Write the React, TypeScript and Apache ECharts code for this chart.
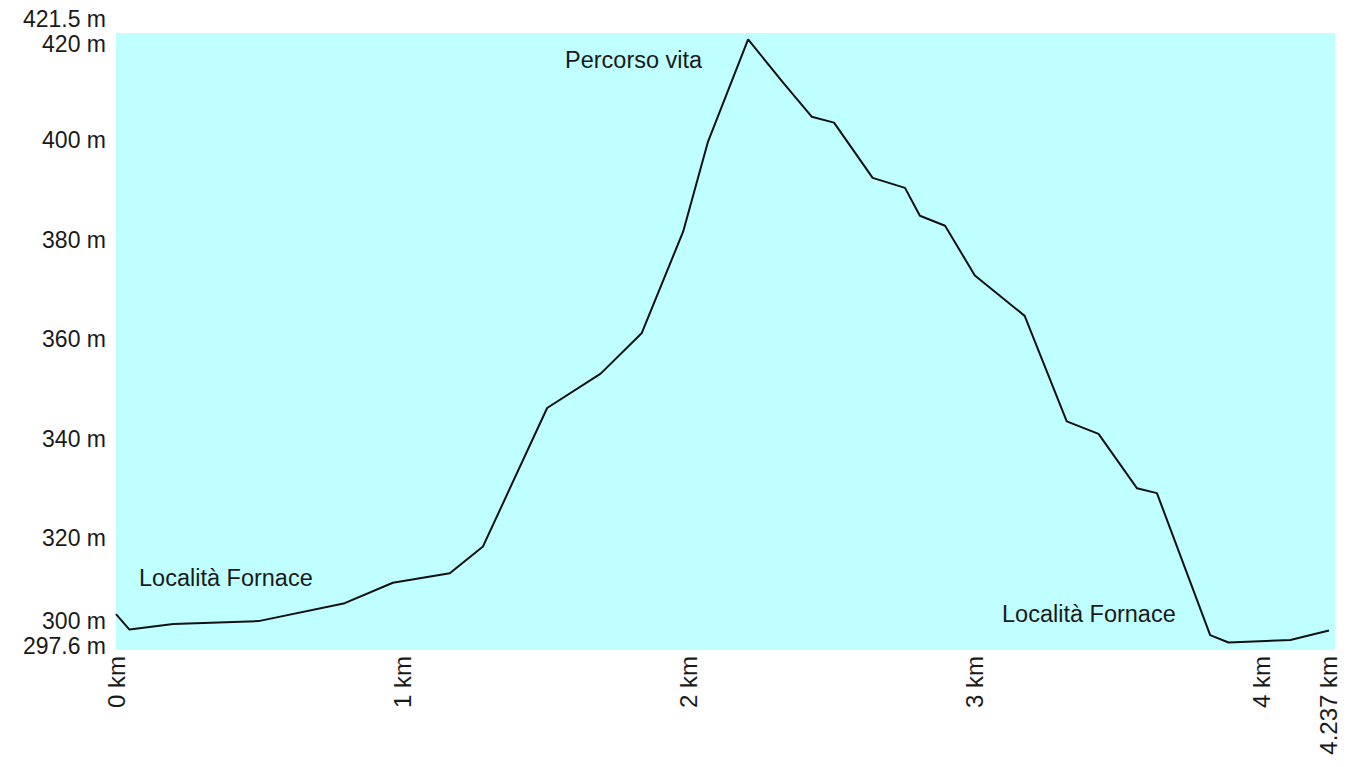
import React, { useEffect, useRef } from "react";
import * as echarts from "echarts";

const distanceKm = [0, 0.047, 0.2, 0.498, 0.799, 0.967, 1.166, 1.282, 1.506, 1.693, 1.836, 1.981, 2.068, 2.208, 2.331, 2.43, 2.508, 2.643, 2.756, 2.808, 2.896, 3.0, 3.174, 3.321, 3.432, 3.566, 3.636, 3.822, 3.886, 4.102, 4.237];
const elevationM = [304.8, 301.7, 302.8, 303.4, 307.0, 311.1, 313.0, 318.4, 346.2, 353.1, 361.2, 381.6, 399.7, 420.2, 411.5, 404.7, 403.5, 392.4, 390.4, 384.8, 382.8, 372.8, 364.7, 343.5, 341.0, 330.1, 329.1, 300.6, 299.1, 299.6, 301.5];

const xTickValues = [0, 1, 2, 3, 4, 4.237];
const yTickValues = [300, 320, 340, 360, 380, 400, 420];
const yEndValues = [297.6, 421.5];

const placeNames = ["Località Fornace", "Percorso vita", "Località Fornace"];

export default function App() {
  const ref = useRef<HTMLDivElement>(null);
  useEffect(() => {
    if (!ref.current) return;
    const chart = echarts.init(ref.current, null, { renderer: "svg" });
    const font = "Liberation Sans, Arial, sans-serif";
    const txt = { fontSize: 23, fontFamily: font, color: "#1a1a1a" };
    const shiftUp = (up: number) => ({ ...txt, padding: [0, 0, up * 2, 0] });
    const shiftDown = (d: number) => ({ ...txt, padding: [d * 2, 0, 0, 0] });
    const yBase = {
      type: "value",
      min: 297.6,
      max: 421.5,
      position: "left",
      axisLine: { show: false },
      axisTick: { show: false },
      splitLine: { show: false },
    };
    chart.setOption({
      animation: false,
      backgroundColor: "#ffffff",
      grid: {
        left: 116,
        right: 24,
        top: 33,
        bottom: 117,
        show: true,
        backgroundColor: "#bfffff",
        borderWidth: 0,
      },
      xAxis: {
        type: "value",
        min: 0,
        max: 4.258,
        axisLine: { show: false },
        axisTick: { show: false },
        splitLine: { show: false },
        axisLabel: {
          customValues: xTickValues,
          showMinLabel: true,
          hideOverlap: false,
          rotate: 90,
          margin: 6,
          ...txt,
          fontSize: 24,
          formatter: (v: number) => `${v} km`,
        },
      },
      yAxis: [
        {
          ...yBase,
          axisLabel: {
            customValues: yTickValues,
            hideOverlap: false,
            margin: 10,
            ...txt,
            formatter: (v: number) => {
              if (Math.abs(v - 300) < 1e-6) return `{u17|${v} m}`;
              if (Math.abs(v - 420) < 1e-6) return `{d4|${v} m}`;
              return `${v} m`;
            },
            rich: { u17: shiftUp(17), d4: shiftDown(4) },
          },
        },
        {
          ...yBase,
          axisLabel: {
            customValues: yEndValues,
            showMinLabel: true,
            showMaxLabel: true,
            hideOverlap: false,
            margin: 10,
            ...txt,
            formatter: (v: number) => (v > 400 ? `{u14|${v} m}` : `{u4|${v} m}`),
            rich: { u14: shiftUp(14), u4: shiftUp(4) },
          },
        },
      ],
      graphic: [
        { type: "text", left: 139, top: 566, style: { text: placeNames[0], font: `23.5px ${font}`, fill: "#1a1a1a" } },
        { type: "text", left: 565, top: 48, style: { text: placeNames[1], font: `23.5px ${font}`, fill: "#1a1a1a" } },
        { type: "text", left: 1002, top: 602, style: { text: placeNames[2], font: `23.5px ${font}`, fill: "#1a1a1a" } },
      ],
      series: [
        {
          type: "line",
          yAxisIndex: 0,
          data: distanceKm.map((d, i) => [d, elevationM[i]]),
          showSymbol: false,
          lineStyle: { color: "#111", width: 2 },
          silent: true,
        },
      ],
    });
    return () => chart.dispose();
  }, []);
  return <div ref={ref} style={{ position: "fixed", left: 0, top: 0, width: 1359, height: 767 }} />;
}
